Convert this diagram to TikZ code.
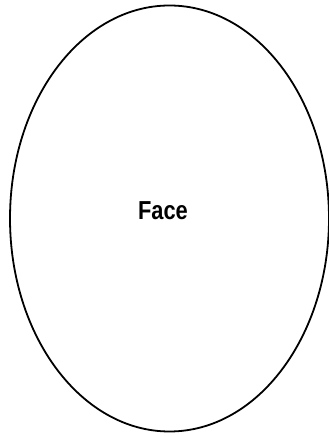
\documentclass[tikz,border=0pt]{standalone}
\usepackage{fontspec}
\setmainfont{Liberation Sans}
\newfontfamily\narrowfont[FakeStretch=0.84]{Liberation Sans}
\begin{document}
\begin{tikzpicture}[x=1pt,y=1pt,
  facestyle/.style={draw=black,line width=1.8pt},
  labelstyle/.style={font=\narrowfont\bfseries\fontsize{26}{29}\selectfont,inner sep=0pt}]
\useasboundingbox (0,0) rectangle (329,436);
\draw[facestyle] (169.5,217.5) ellipse [x radius=159.5, y radius=213];
\node[labelstyle,anchor=base] (face) at (163,216) {Face};
\end{tikzpicture}
\end{document}
